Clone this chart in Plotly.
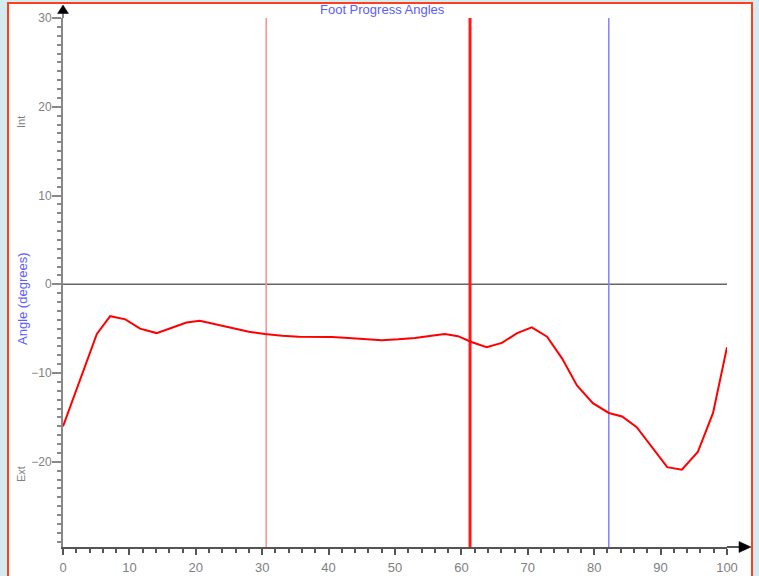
import plotly.graph_objects as go

# Gait cycle (%) and foot progression angle (degrees)
cycle_pct = [0, 2.5, 5.1, 7.1, 9.4, 11.6, 14.1, 16.4, 18.6, 20.6, 23, 25.5, 28, 30.4, 33,
             35.5, 38, 40.5, 43, 45.5, 48, 50.5, 53, 55.5, 57.5, 59.5, 61.5, 63.8, 66.1,
             68.4, 70.6, 72.9, 75.2, 77.4, 79.8, 82.2, 84.2, 86.4, 88.7, 91, 93.2, 95.6,
             97.9, 100]
angle_deg = [-16.0, -10.8, -5.6, -3.6, -3.95, -5.0, -5.5, -4.9, -4.3, -4.1, -4.5, -5.0,
             -5.35, -5.6, -5.8, -5.9, -5.9, -5.95, -6.05, -6.15, -6.3, -6.2, -6.05, -5.8,
             -5.6, -5.85, -6.5, -7.1, -6.6, -5.5, -4.85, -5.9, -8.4, -11.4, -13.4, -14.5,
             -14.9, -16.1, -18.3, -20.6, -20.9, -18.9, -14.5, -7.1]

# Event markers (% of cycle)
event_pct = [30.6, 61.3, 82.2]
event_colors = ["#ff8c8c", "#ff1a1a", "#8080ff"]
event_widths = [1.5, 3, 1.5]

y_ticks = [-20, -10, 0, 10, 20, 30]
x_ticks = [0, 10, 20, 30, 40, 50, 60, 70, 80, 90, 100]

Y_MIN, Y_MAX = -29.6, 30

fig = go.Figure()

# zero line
fig.add_trace(go.Scatter(x=[0, 100], y=[0, 0], mode="lines",
                         line=dict(color="#666666", width=1.5), hoverinfo="skip",
                         showlegend=False))

for xv, c, w in zip(event_pct, event_colors, event_widths):
    fig.add_trace(go.Scatter(x=[xv, xv], y=[Y_MIN, Y_MAX], mode="lines",
                             line=dict(color=c, width=w), showlegend=False,
                             hoverinfo="skip"))

fig.add_trace(go.Scatter(x=cycle_pct, y=angle_deg, mode="lines",
                         line=dict(color="#ff0000", width=2), showlegend=False))

W, H = 759, 576
L, R, T, B = 63, 32, 18, 29
pw, ph = W - L - R, H - T - B

def px(x):
    return (x - L) / pw

def py(y):
    return (H - B - y) / ph

def tri(points):
    return "M " + " L ".join(f"{px(a):.5f},{py(b):.5f}" for a, b in points) + " Z"

# white frame with red border
fig.add_shape(type="rect", xref="paper", yref="paper",
              x0=px(8), x1=px(752), y0=py(590), y1=py(3),
              fillcolor="white", line=dict(color="#ff3d1f", width=2), layer="below")
# axis extensions up to arrows
fig.add_shape(type="line", xref="paper", yref="paper",
              x0=0, x1=0, y0=1, y1=py(10), line=dict(color="#888888", width=2))
fig.add_shape(type="line", xref="paper", yref="paper",
              x0=1, x1=px(742), y0=0, y1=0, line=dict(color="#555555", width=2))
# arrow heads
fig.add_shape(type="path", xref="paper", yref="paper",
              path=tri([(63, 5), (57.5, 13.5), (68.5, 13.5)]),
              fillcolor="black", line=dict(color="black", width=0.5))
fig.add_shape(type="path", xref="paper", yref="paper",
              path=tri([(751, H - B), (739, H - B - 5.5), (739, H - B + 5.5)]),
              fillcolor="black", line=dict(color="black", width=0.5))

fig.add_annotation(text="Foot Progress Angles", xref="paper", yref="paper",
                   x=px(382), y=py(9), showarrow=False,
                   xanchor="center", yanchor="middle",
                   font=dict(color="#5b5bff", size=13, family="Liberation Sans"))
fig.add_annotation(text="Angle (degrees)", xref="paper", yref="paper",
                   x=px(22), y=py(299), showarrow=False, textangle=-90,
                   xanchor="center", yanchor="middle",
                   font=dict(color="#5b5bff", size=13, family="Liberation Sans"))
fig.add_annotation(text="Int", xref="paper", yref="paper",
                   x=px(21), y=py(122), showarrow=False, textangle=-90,
                   xanchor="center", yanchor="middle",
                   font=dict(color="#808080", size=11, family="Liberation Sans"))
fig.add_annotation(text="Ext", xref="paper", yref="paper",
                   x=px(21), y=py(474), showarrow=False, textangle=-90,
                   xanchor="center", yanchor="middle",
                   font=dict(color="#808080", size=11, family="Liberation Sans"))

fig.update_layout(
    width=W, height=H,
    margin=dict(l=L, r=R, t=T, b=B, autoexpand=False),
    paper_bgcolor="#d3ecef",
    plot_bgcolor="white",
    xaxis=dict(range=[0, 100], tickvals=x_ticks, showgrid=False, zeroline=False,
               automargin=False,
               showline=True, linecolor="#555555", linewidth=2,
               ticks="outside", ticklen=6, tickcolor="#555555", tickwidth=1.5,
               ticklabelstandoff=1,
               minor=dict(dtick=2, ticks="outside", ticklen=4, tickcolor="#555555"),
               tickfont=dict(color="#808080", size=13, family="Liberation Sans")),
    yaxis=dict(range=[Y_MIN, Y_MAX], tickvals=y_ticks, showgrid=False, zeroline=False,
               automargin=False,
               showline=True, linecolor="#888888", linewidth=2,
               ticks="outside", ticklen=9, tickcolor="#888888", tickwidth=1.5,
               ticklabelstandoff=-2,
               minor=dict(dtick=1, ticks="outside", ticklen=4, tickcolor="#888888",
                          tickwidth=1.5),
               tickfont=dict(color="#808080", size=12, family="Liberation Sans")),
)

fig.write_html("out.html", config={"displayModeBar": False},
               post_script="document.body.style.margin='0';document.body.style.overflow='hidden';")
